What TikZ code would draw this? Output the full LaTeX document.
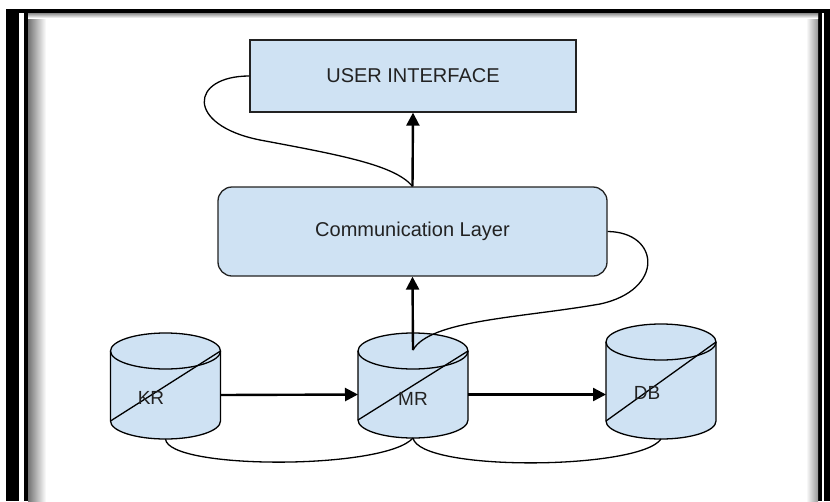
\documentclass[tikz,border=0pt]{standalone}
\usepackage{fontspec}
\setmainfont{Liberation Sans}
\usepackage{tikz}
\usetikzlibrary{arrows.meta, calc}
\definecolor{layerblue}{RGB}{207,226,243}
\definecolor{inkgray}{RGB}{34,34,34}
\tikzstyle{arrow} = [line width=2.4pt,-{Stealth[inset=0pt,length=13pt,width=13pt]}]
\tikzstyle{link} = [line width=1.3pt]
\tikzstyle{layer} = [draw=inkgray, fill=layerblue, line width=1.3pt, text=inkgray, font=\fontsize{20}{24}\selectfont]
\tikzstyle{store} = [minimum width=110, inner sep=0pt, outer sep=0pt]
\tikzstyle{tank} = [draw=black, fill=layerblue, line width=1.3pt]
\tikzstyle{storename} = [text=inkgray, inner sep=0pt, font=\fontsize{19}{22}\selectfont]

\begin{document}
\begin{tikzpicture}[x=1pt, y=-1pt]
        \useasboundingbox (0,0) rectangle (830,501);
        % frame
        \fill (6,9) rectangle (19,501);
        \fill (6,9) rectangle (830,13);
        \fill (824,9) rectangle (830,501);
        \fill (24,13) rectangle (28,501);
        \fill (818,13) rectangle (822,501);
        \shade[left color=black!55, right color=white] (28,13) rectangle (46,501);
        \shade[left color=white, right color=black!40] (806,13) rectangle (818,501);
        \shade[top color=black!45, bottom color=white] (28,13) rectangle (818,18);

        \node[layer, minimum width=326, minimum height=72] (ui) at (413,76) {USER INTERFACE};
        \node[layer, rounded corners=14pt, minimum width=389, minimum height=89] (cl) at (412.5,231.5) {Communication Layer};
        \node[store, minimum height=106] (kr) at (165.5,386) {};
        \node[store, minimum height=105] (mr) at (413,385.5) {};
        \node[store, minimum height=115] (db) at (661,381.5) {};
        % cylinders
        \foreach \s in {kr, mr, db} {
            \filldraw[tank] ($(\s.north west)+(0,18)$) -- ($(\s.south west)+(0,-18)$)
                arc[start angle=180, end angle=360, x radius=55pt, y radius=18pt]
                -- ($(\s.north east)+(0,18)$)
                arc[start angle=0, end angle=180, x radius=55pt, y radius=18pt] -- cycle;
            \draw[tank, fill=none] ($(\s.north west)+(0,18)$)
                arc[start angle=180, end angle=360, x radius=55pt, y radius=18pt];
            \draw[link] ($(\s.south west)+(0,-18)$) -- ($(\s.north east)+(0,18)$);
        }
        \node[storename] (krname) at (151,398) {KR};
        \node[storename] (mrname) at (413,399) {MR};
        \node[storename] (dbname) at (647,393) {DB};
        \coordinate (mrtop) at ($(mr.north)+(0,17)$);

        \draw[arrow] (cl.north) -- (ui.south);
        \draw[arrow] (mrtop) -- (cl.south);
        \draw[arrow] ([yshift=-9pt]kr.east) -- ([yshift=-9pt]mr.west);
        \draw[arrow] ([yshift=-9pt]mr.east) -- ([yshift=-9pt]mr.east -| db.west);
        \draw[link] (ui.west) .. controls (190,76) and (185,125) .. (260,140)
            .. controls (340,155) and (395,165) .. (cl.north);
        \draw[link] (cl.east) .. controls (660,232) and (665,290) .. (600,304)
            .. controls (520,318) and (430,320) .. (mrtop);
        \draw[link] (kr.south) .. controls (168,470) and (385,470) .. (mr.south);
        \draw[link] (mr.south) .. controls (420,472) and (640,470) .. (db.south);
    \end{tikzpicture}
\end{document}
